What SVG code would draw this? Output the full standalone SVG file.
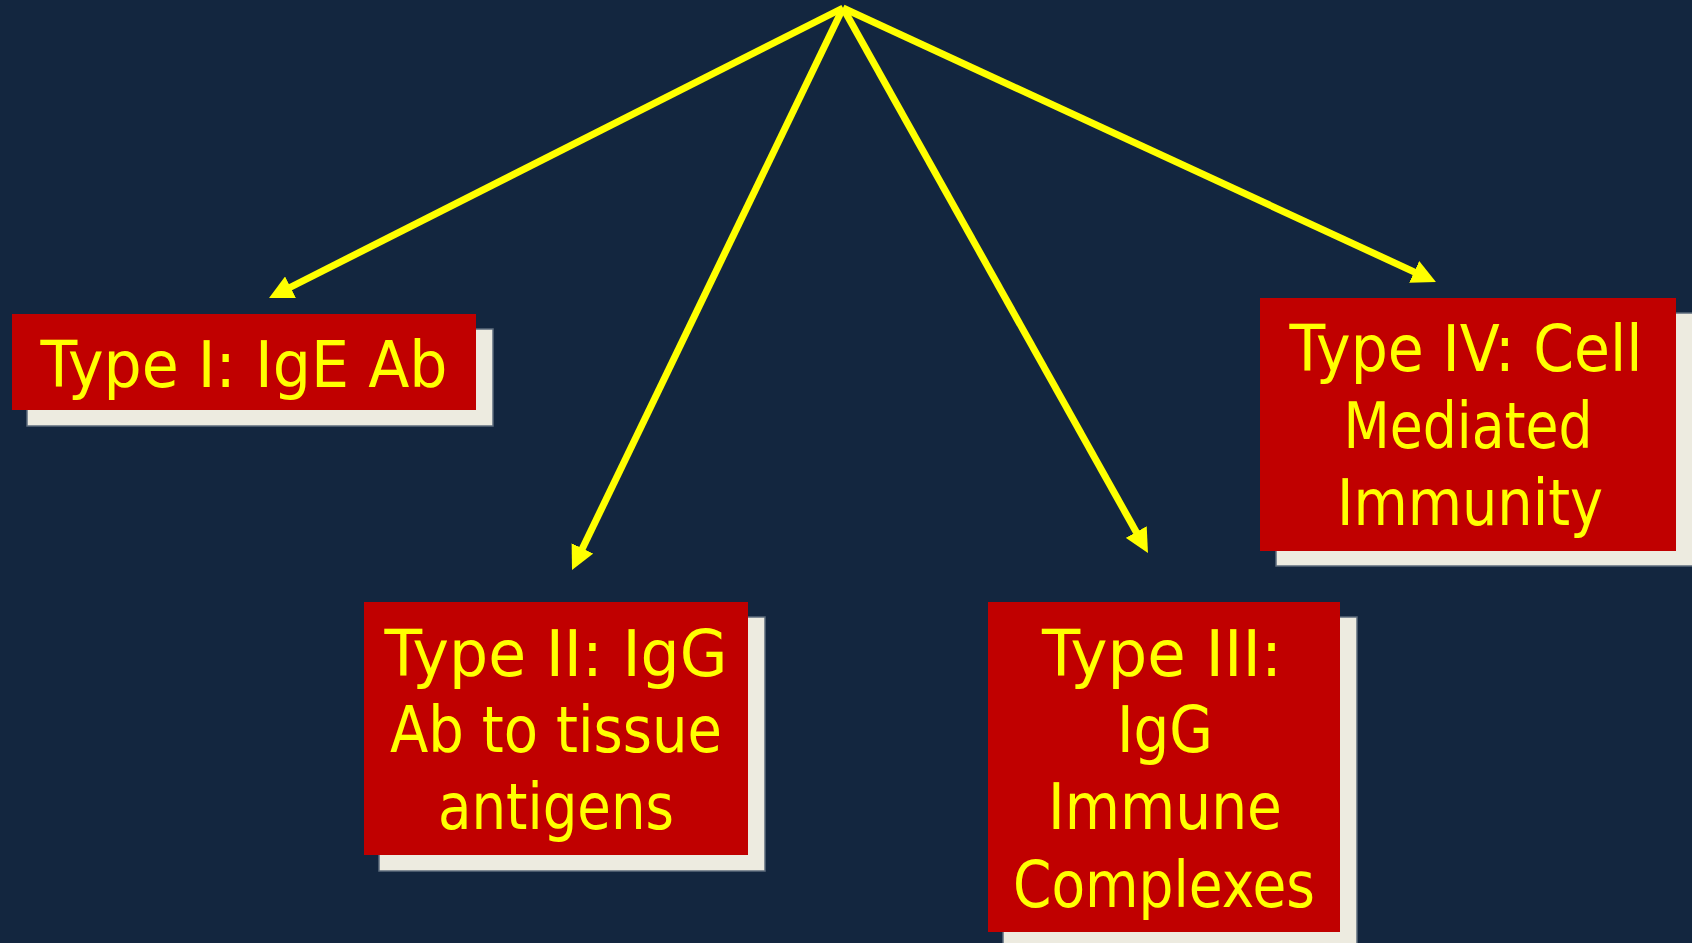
<svg xmlns="http://www.w3.org/2000/svg" width="1692" height="943" viewBox="0 0 1692 943">
<style>
.shadow{fill:#EDEBE0;stroke:#5C6B7C;stroke-width:1.5}
.box{fill:#C00000}
.lbl{font-family:"DejaVu Sans","Liberation Sans",sans-serif;font-size:64px;fill:#FFFF00;text-anchor:middle}
.conn{stroke:#FFFF00;stroke-width:7;fill:none;marker-end:url(#ah)}
</style>
<defs>
<marker id="ah" markerUnits="userSpaceOnUse" markerWidth="24" markerHeight="24" refX="4" refY="12" orient="auto">
<path d="M0,0 L24,12 L0,24 z" fill="#FFFF00"/>
</marker>
</defs>
<rect width="1692" height="943" fill="#13263F"/>
<g id="connectors">
<path class="conn" d="M843,8 L286.9,289"/>
<path class="conn" d="M843,8 L580.7,552"/>
<path class="conn" d="M843,8 L1138.2,535.5"/>
<path class="conn" d="M843,8 L1417.8,273.6"/>
</g>
<g id="type1">
<rect class="shadow" x="27" y="329" width="466" height="97"/>
<rect class="box" x="12" y="314" width="464" height="96"/>
<text class="lbl" x="244" y="387" textLength="407" lengthAdjust="spacingAndGlyphs">Type I: IgE Ab</text>
</g>
<g id="type2">
<rect class="shadow" x="379" y="617" width="386" height="254"/>
<rect class="box" x="364" y="602" width="384" height="253"/>
<text class="lbl" x="556" y="676" textLength="343" lengthAdjust="spacingAndGlyphs">Type II: IgG</text>
<text class="lbl" x="556" y="752" textLength="332" lengthAdjust="spacingAndGlyphs">Ab to tissue</text>
<text class="lbl" x="556" y="829" textLength="236" lengthAdjust="spacingAndGlyphs">antigens</text>
</g>
<g id="type3">
<rect class="shadow" x="1003" y="617" width="354" height="340"/>
<rect class="box" x="988" y="602" width="352" height="330"/>
<text class="lbl" x="1162" y="676" textLength="240" lengthAdjust="spacingAndGlyphs">Type III:</text>
<text class="lbl" x="1165" y="752" textLength="96" lengthAdjust="spacingAndGlyphs">IgG</text>
<text class="lbl" x="1165" y="829" textLength="234" lengthAdjust="spacingAndGlyphs">Immune</text>
<text class="lbl" x="1164" y="907" textLength="302" lengthAdjust="spacingAndGlyphs">Complexes</text>
</g>
<g id="type4">
<rect class="shadow" x="1276" y="313" width="430" height="253"/>
<rect class="box" x="1260" y="298" width="416" height="253"/>
<text class="lbl" x="1466" y="371" textLength="353" lengthAdjust="spacingAndGlyphs">Type IV: Cell</text>
<text class="lbl" x="1468" y="448" textLength="249" lengthAdjust="spacingAndGlyphs">Mediated</text>
<text class="lbl" x="1470" y="525" textLength="266" lengthAdjust="spacingAndGlyphs">Immunity</text>
</g>
</svg>
